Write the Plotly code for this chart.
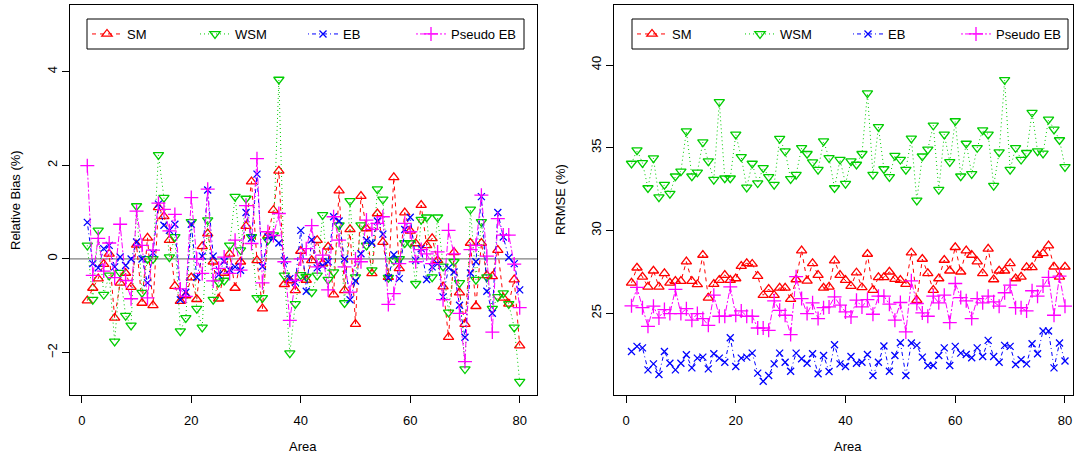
import plotly.graph_objects as go

area = list(range(1, 81))
series_names = ["SM", "WSM", "EB", "Pseudo EB"]
x_ticks = [0, 20, 40, 60, 80]
rb_ticks = [-2, 0, 2, 4]
rr_ticks = [25, 30, 35, 40]

# Relative Bias (%)
rb_sm = [-0.89, -0.62, -0.42, -0.11, 0.11, -1.26, -0.51, -0.30, -0.60, 0.30,
         -0.94, 0.45, -0.99, 1.10, 0.91, 0.40, -0.58, -0.90, -0.78, -0.40,
         -0.86, 0.27, 0.54, -0.06, -0.85, -0.30, 0.11, -0.62, -0.06, 0.70,
         1.65, -0.03, -1.06, 0.50, 1.04, 1.88, -0.54, -0.46, -0.67, 0.17,
         -0.45, -0.03, 0.40, -0.10, 0.26, -0.76, 1.46, -0.67, 0.63, -1.39,
         1.34, 0.65, -0.31, 0.97, 0.36, -0.39, 1.74, -0.20, 0.99, 0.60,
         0.33, 1.15, 0.29, 0.44, -0.03, -0.59, -1.67, 0.14, -0.72, -1.39,
         0.34, -1.01, 0.34, -0.35, -0.37, 0.19, -0.83, -0.96, -0.44, -1.85]
rb_wsm = [0.29, -0.87, 0.61, -0.76, -0.35, -1.76, -0.29, -1.21, -1.42, 1.13,
          -0.72, 0.00, 0.00, 2.22, 1.31, 0.04, 0.47, -1.54, -1.26, 0.79,
          -1.06, -1.46, 0.83, -0.87, -0.50, -0.46, 0.29, 1.33, 0.19, 1.29,
          0.47, -0.83, -0.83, 0.40, 0.51, 3.83, -0.35, -2.01, -0.96, -0.34,
          -0.38, -0.71, -0.35, 0.94, -0.44, -0.28, 0.72, -0.94, 1.24, -0.39,
          0.72, 0.29, -0.24, 1.49, 1.27, -0.40, -0.03, 0.00, 0.34, 0.34,
          -0.53, 0.84, 0.89, -0.39, 0.89, -0.16, -1.14, -0.06, -0.51, -2.35,
          1.06, -0.44, 0.79, -0.39, -1.06, -0.81, -0.73, -0.96, -1.46, -2.62]
rb_eb = [0.78, -0.10, -0.19, 0.22, 0.29, -0.17, 0.04, -0.14, 0.00, 0.36,
         0.00, -0.51, 0.13, 1.17, 0.72, 0.61, 0.74, -0.87, -0.71, 0.74,
         -0.39, 0.06, 1.47, 0.06, -0.34, -0.05, -0.23, -0.17, -0.24, 0.99,
         0.44, 1.81, -0.16, 0.47, 0.45, 0.34, -0.03, -0.42, -0.50, 0.61,
         -0.69, 0.41, -0.19, -0.14, -0.06, 0.90, 0.81, 0.00, -0.87, -0.47,
         0.11, 0.40, 0.34, 0.81, 0.53, -0.40, 0.09, -0.42, 0.63, 0.89,
         -0.03, 0.22, -0.44, -0.17, -0.10, -0.81, -0.19, -0.28, -0.99, -1.67,
         -0.30, -0.06, 1.33, -0.69, -1.16, 0.99, 0.47, 0.03, -0.10, -0.66]
rb_peb = [1.99, -0.35, 0.44, -0.26, 0.34, -0.40, 0.74, -0.46, -0.85, 1.02,
          0.29, -0.83, 0.19, 1.19, 1.06, 0.60, 0.95, -0.64, -0.80, 1.31,
          0.00, -0.31, 1.49, -0.47, -0.20, 0.04, -0.31, 0.40, -0.24, 1.14,
          0.33, 2.14, -0.51, 0.58, 0.50, 0.97, -0.06, -1.31, -0.46, 0.00,
          0.22, 0.71, -0.17, 0.08, -0.66, 0.90, 0.40, -0.17, -0.71, 0.00,
          -0.06, 0.83, 0.63, 0.76, 0.90, -0.97, -0.74, -0.10, 0.76, 0.58,
          -0.06, 0.20, 0.11, -0.10, 0.15, -0.87, 0.61, 0.11, -1.16, -2.19,
          0.20, 0.29, 1.36, 0.06, -1.56, 0.86, 0.51, 0.51, -0.11, -1.04]

# RRMSE (%)
rr_sm = [26.84, 27.75, 27.20, 26.60, 27.57, 26.60, 27.41, 26.84, 26.94, 26.94,
         28.12, 26.94, 26.74, 28.52, 25.93, 26.76, 27.00, 27.31, 27.00, 27.10,
         27.85, 28.02, 27.98, 27.25, 26.09, 26.46, 26.09, 26.54, 26.54, 25.85,
         27.04, 28.79, 26.96, 28.02, 27.31, 26.54, 26.60, 28.18, 27.31, 27.00,
         26.64, 27.45, 26.56, 28.58, 26.40, 27.17, 27.17, 27.51, 27.06, 27.00,
         26.76, 28.66, 25.79, 28.28, 27.41, 26.40, 27.10, 28.22, 27.57, 28.99,
         27.51, 28.79, 28.52, 28.12, 27.41, 28.89, 27.04, 27.57, 27.57, 28.02,
         27.10, 27.20, 27.77, 27.77, 28.52, 28.62, 29.09, 27.81, 27.20, 27.81]
rr_wsm = [34.05, 34.86, 34.09, 32.57, 34.37, 32.02, 32.77, 32.23, 33.28, 33.58,
          36.01, 33.28, 33.52, 35.34, 34.19, 33.08, 37.77, 33.16, 33.16, 35.81,
          34.45, 32.61, 34.05, 32.87, 33.79, 33.24, 32.77, 35.55, 34.80, 33.12,
          33.38, 35.00, 34.64, 34.13, 33.68, 35.40, 34.39, 32.57, 34.29, 32.83,
          34.19, 33.99, 34.64, 38.30, 33.38, 36.26, 33.72, 33.24, 34.53, 34.29,
          33.68, 35.57, 31.82, 34.49, 34.90, 36.36, 32.47, 35.81, 34.15, 36.62,
          33.28, 35.26, 33.42, 35.00, 36.07, 35.81, 32.71, 34.74, 39.11, 33.68,
          35.00, 34.29, 34.70, 37.13, 34.80, 34.66, 36.72, 36.11, 35.47, 33.85]
rr_eb = [22.69, 23.00, 22.91, 21.58, 21.94, 21.30, 22.69, 21.98, 21.58, 21.98,
         22.49, 21.70, 22.29, 22.35, 21.64, 22.55, 22.29, 22.04, 23.52, 21.78,
         22.29, 22.35, 22.59, 21.38, 20.89, 21.24, 21.94, 22.59, 22.04, 21.50,
         22.59, 22.25, 21.98, 22.55, 21.34, 22.45, 21.48, 23.10, 21.94, 21.78,
         22.39, 21.98, 22.04, 22.51, 21.24, 22.04, 23.02, 21.50, 22.45, 23.22,
         21.24, 23.20, 23.06, 22.35, 21.84, 21.84, 22.45, 22.91, 21.84, 23.00,
         22.59, 22.51, 22.31, 22.91, 22.39, 23.36, 22.39, 22.04, 23.06, 23.00,
         21.90, 22.19, 21.94, 23.16, 22.55, 23.93, 23.93, 21.70, 23.20, 22.11]
rr_peb = [25.45, 26.56, 25.34, 24.21, 25.43, 24.72, 25.22, 24.98, 26.44, 24.98,
          25.28, 24.58, 24.98, 24.68, 24.27, 26.09, 24.82, 24.82, 26.60, 24.88,
          25.14, 24.82, 24.82, 24.11, 24.11, 23.97, 25.75, 25.18, 24.88, 23.71,
          27.21, 25.89, 24.98, 25.63, 24.68, 25.34, 25.38, 25.99, 25.49, 25.08,
          24.78, 25.79, 25.38, 25.83, 24.94, 26.03, 26.03, 25.55, 24.58, 25.65,
          23.87, 26.96, 25.59, 25.02, 24.82, 26.03, 25.63, 26.09, 24.44, 26.80,
          25.95, 25.75, 24.68, 25.89, 25.63, 26.03, 25.69, 25.43, 26.24, 26.70,
          25.34, 25.34, 25.14, 26.36, 26.03, 26.64, 27.17, 24.88, 27.25, 25.43]

W, H = 1076, 455
FONT = "Liberation Sans, Arial, Helvetica, sans-serif"


def px(v):
    return v / W


def py(v):
    return 1 - v / H


styles = {
    "SM": dict(color="#FF0000", symbol="triangle-up-open", dash="4px,4px", size=9),
    "WSM": dict(color="#00CD00", symbol="triangle-down-open", dash="1px,3px", size=9),
    "EB": dict(color="#0000FF", symbol="x-thin-open", dash="1px,3px,4px,3px", size=7),
    "Pseudo EB": dict(color="#FF00FF", symbol="cross-thin-open", dash="2px,2px,6px,2px", size=10),
}

fig = go.Figure()

panels = [
    ("x", "y", "legend", [rb_sm, rb_wsm, rb_eb, rb_peb]),
    ("x2", "y2", "legend2", [rr_sm, rr_wsm, rr_eb, rr_peb]),
]
for xa, ya, lg, series in panels:
    for name, vals in zip(series_names, series):
        s = styles[name]
        fig.add_trace(go.Scatter(
            x=area, y=vals, name=name, mode="lines+markers",
            xaxis=xa, yaxis=ya, legend=lg,
            line=dict(color=s["color"], width=1, dash=s["dash"]),
            marker=dict(symbol=s["symbol"], size=s["size"], color=s["color"],
                        line=dict(color=s["color"], width=1.3)),
        ))

axis_common = dict(
    showline=True, mirror=True, linecolor="black", linewidth=1,
    ticks="outside", ticklen=7, tickwidth=1, tickcolor="black",
    showgrid=False, zeroline=False,
    tickfont=dict(family=FONT, size=13, color="black"),
)

legend_common = dict(
    orientation="h", xanchor="left", yanchor="middle",
    borderwidth=0, bgcolor="rgba(0,0,0,0)",
    font=dict(family=FONT, size=13, color="black"),
    entrywidth=63, entrywidthmode="pixels", traceorder="normal",
)

fig.update_layout(
    width=W, height=H,
    margin=dict(l=0, r=0, t=0, b=0),
    paper_bgcolor="white", plot_bgcolor="white",
    font=dict(family=FONT, size=13, color="black"),
    xaxis=dict(domain=[px(70), px(537)], range=[-2.16, 83.16], tickvals=x_ticks,
               anchor="y", ticklabelstandoff=6, **axis_common),
    yaxis=dict(domain=[py(395), py(5)], range=[-2.904, 5.42], tickvals=rb_ticks,
               ticktext=["\u22122", "0", "2", "4"],
               anchor="x", tickangle=-90, ticklabelstandoff=0, **axis_common),
    xaxis2=dict(domain=[px(614), px(1073)], range=[-2.19, 81.46], tickvals=x_ticks,
                anchor="y2", ticklabelstandoff=6, **axis_common),
    yaxis2=dict(domain=[py(395), py(5)], range=[20.06, 43.63], tickvals=rr_ticks,
                anchor="x2", tickangle=-90, ticklabelstandoff=0, **axis_common),
    legend=dict(x=px(87), y=py(34), **legend_common),
    legend2=dict(x=px(632), y=py(34), **legend_common),
    showlegend=True,
)

# legend frames
for x0, x1 in [(87, 524), (632, 1068)]:
    fig.add_shape(type="rect", xref="paper", yref="paper",
                  x0=px(x0), x1=px(x1), y0=py(49), y1=py(19),
                  line=dict(color="black", width=1), fillcolor="rgba(0,0,0,0)")

# zero reference line in the relative-bias panel
fig.add_shape(type="line", xref="x domain", yref="y", x0=0, x1=1, y0=0, y1=0,
              line=dict(color="#7f7f7f", width=1.3), layer="below")

# axis titles
for txt, x, y, ang in [("Area", 303, 446, 0), ("Area", 848, 446, 0),
                       ("Relative Bias (%)", 15, 200, -90), ("RRMSE (%)", 560, 200, -90)]:
    fig.add_annotation(text=txt, x=px(x), y=py(y), xref="paper", yref="paper",
                       xanchor="center", yanchor="middle", showarrow=False,
                       textangle=ang, font=dict(family=FONT, size=13))

fig.write_html(
    "out.html",
    config={"displayModeBar": False},
    post_script="document.body.style.margin='0';document.body.style.overflow='hidden';",
)
